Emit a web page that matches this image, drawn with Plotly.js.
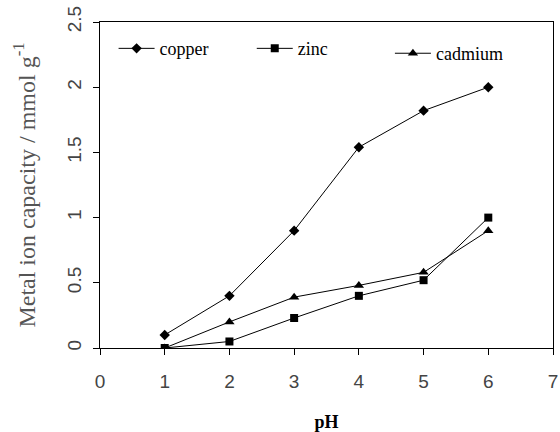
<!DOCTYPE html>
<html><head><meta charset="utf-8">
<script src="https://cdn.plot.ly/plotly-3.0.1.min.js"></script>
<style>html,body{margin:0;padding:0;background:#fff}#chart{width:560px;height:432px}</style>
</head><body><div id="chart"></div>
<script>
const pH = [1, 2, 3, 4, 5, 6];
const copper = [0.1, 0.4, 0.9, 1.54, 1.82, 2.0];
const zinc = [0.0, 0.05, 0.23, 0.40, 0.52, 1.0];
const cadmium = [0.0, 0.2, 0.39, 0.48, 0.58, 0.9];
const seriesNames = ['copper', 'zinc', 'cadmium'];
const xTicks = [0, 1, 2, 3, 4, 5, 6, 7];
const yTicks = [0, 0.5, 1, 1.5, 2, 2.5];
const yTickText = ['0', '0.5', '1', '1.5', '2', '2.5'];

const SERIF = 'Liberation Serif';
const SANS = 'Liberation Sans';
const serifName = n => '<span style="font-family:Liberation Serif,Times New Roman,serif">' + n + '</span>';
const line = {color: '#000', width: 1};
const traces = [
  {x: pH, y: copper, name: serifName(seriesNames[0]), mode: 'lines+markers', line: line,
   marker: {symbol: 'diamond', size: 8, color: '#000'}, legend: 'legend'},
  {x: pH, y: zinc, name: serifName(seriesNames[1]), mode: 'lines+markers', line: line,
   marker: {symbol: 'square', size: 8, color: '#000'}, legend: 'legend2'},
  {x: pH, y: cadmium, name: serifName(seriesNames[2]), mode: 'lines+markers', line: line,
   marker: {symbol: 'triangle-up', size: 9, color: '#000'}, legend: 'legend3'}
];
const legFont = {family: SERIF, size: 18, color: '#000'};
const layout = {
  width: 560, height: 432,
  font: {family: SERIF, color: '#000'},
  margin: {l: 100, r: 7, t: 22, b: 84},
  paper_bgcolor: '#fff', plot_bgcolor: '#fff',
  showlegend: true,
  legend: {x: 0.03, y: 0.975, xanchor: 'left', yanchor: 'top', font: legFont, bgcolor: 'rgba(0,0,0,0)', itemwidth: 36},
  legend2: {x: 0.335, y: 0.975, xanchor: 'left', yanchor: 'top', font: legFont, bgcolor: 'rgba(0,0,0,0)', itemwidth: 36},
  legend3: {x: 0.64, y: 0.96, xanchor: 'left', yanchor: 'top', font: legFont, bgcolor: 'rgba(0,0,0,0)', itemwidth: 36},
  xaxis: {
    range: [0, 7], tickvals: xTicks, ticktext: xTicks.map(String),
    ticks: 'outside', ticklen: 6, tickcolor: '#000', showline: true, linecolor: '#000', linewidth: 1,
    mirror: true, showgrid: false, zeroline: false, ticklabelstandoff: 10,
    tickfont: {family: SANS, size: 19, color: '#444'},
    title: {text: '<b>pH</b>', font: {family: SERIF, size: 18, color: '#000'}, standoff: 28}
  },
  yaxis: {
    range: [0, 2.5], tickvals: yTicks, ticktext: yTickText, tickangle: -90,
    ticks: 'outside', ticklen: 6, tickcolor: '#000', showline: true, linecolor: '#000', linewidth: 1,
    mirror: true, showgrid: false, zeroline: false, ticklabelstandoff: 4,
    tickfont: {family: SANS, size: 19, color: '#444'},
    title: {text: 'Metal ion capacity / mmol g<sup>-1</sup>', font: {family: SERIF, size: 24, color: '#555'}, standoff: 22}
  }
};
Plotly.newPlot('chart', traces, layout, {displayModeBar: false, staticPlot: true});
</script></body></html>
